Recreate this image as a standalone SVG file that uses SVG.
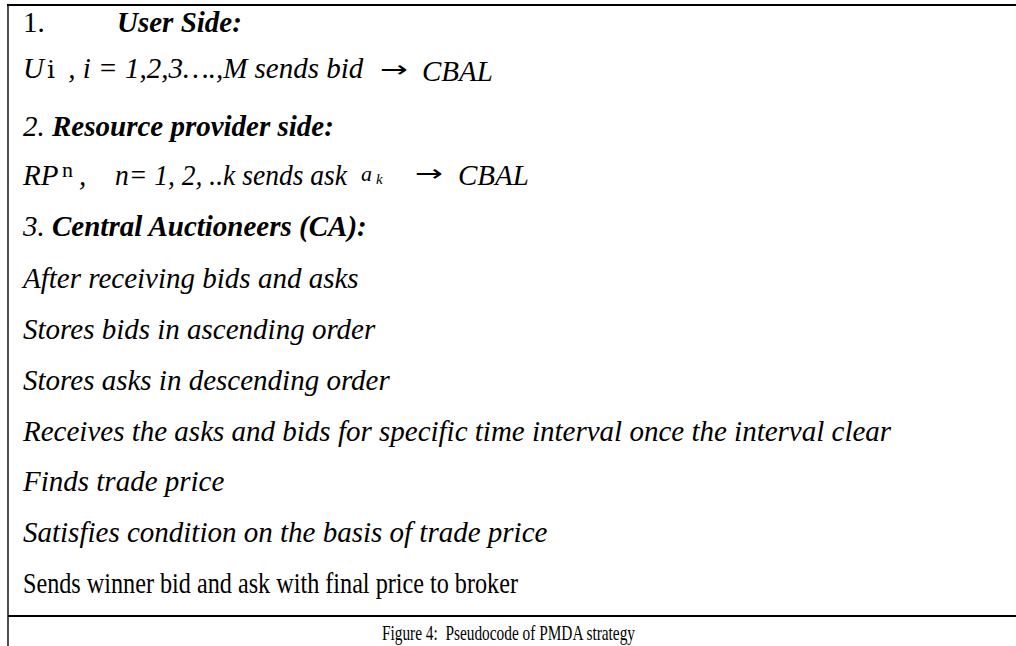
<svg xmlns="http://www.w3.org/2000/svg" width="1016" height="646" viewBox="0 0 1016 646">
<style>
.t{font-family:"Liberation Serif","Times New Roman",serif;font-size:29px;fill:#000;font-style:italic}
.b{font-weight:bold}
.r{font-style:normal}
.ar{font-family:"DejaVu Sans",sans-serif;font-style:normal;font-size:23px}
.cap{font-family:"Liberation Serif","Times New Roman",serif;font-size:22px;fill:#000}
.ln{stroke:#000;fill:none}
</style>
<rect width="1016" height="646" fill="#fff"/>
<g id="frame">
<line class="ln" x1="7" y1="5" x2="1016" y2="5" stroke-width="2.2"/>
<line class="ln" x1="8" y1="4" x2="8" y2="646" stroke-width="1.4"/>
<line class="ln" x1="8" y1="616" x2="1016" y2="616" stroke-width="2.2"/>
</g>
<g id="user-side">
<text class="t r" x="23" y="32">1.</text>
<text class="t b" x="117" y="32">User Side:</text>
<text class="t" x="23" y="78">U<tspan class="r" x="47" font-family="DejaVu Serif" font-size="25">i</tspan><tspan x="61"> , i = 1,2,3….,M sends bid</tspan></text>
<text class="ar" x="380" y="77" textLength="28" lengthAdjust="spacingAndGlyphs">→</text>
<text class="t" x="422" y="81">CBAL</text>
</g>
<g id="provider-side">
<text class="t" x="23" y="136">2. <tspan class="b">Resource provider side:</tspan></text>
<text class="t" x="23" y="185">RP<tspan class="r" x="62" y="177" font-size="22">n</tspan><tspan x="79" y="185">,</tspan><tspan x="115" textLength="232" lengthAdjust="spacingAndGlyphs">n= 1, 2, ..k sends ask</tspan><tspan x="361" y="181" font-size="22">a</tspan><tspan x="376" y="184" font-size="15">k</tspan></text>
<text class="ar" x="415" y="181" textLength="28" lengthAdjust="spacingAndGlyphs">→</text>
<text class="t" x="458" y="185">CBAL</text>
</g>
<g id="central-auctioneers">
<text class="t" x="23" y="236">3. <tspan class="b">Central Auctioneers (CA):</tspan></text>
<text class="t" x="23" y="288">After receiving bids and asks</text>
<text class="t" x="23" y="339">Stores bids in ascending order</text>
<text class="t" x="23" y="390">Stores asks in descending order</text>
<text class="t" x="23" y="441">Receives the asks and bids for specific time interval once the interval clear</text>
<text class="t" x="23" y="491">Finds trade price</text>
<text class="t" x="23" y="542">Satisfies condition on the basis of trade price</text>
<text class="t r" x="23" y="593" font-size="28" textLength="495" lengthAdjust="spacingAndGlyphs">Sends winner bid and ask with final price to broker</text>
</g>
<g id="caption">
<text class="cap" x="382" y="640" textLength="253" lengthAdjust="spacingAndGlyphs" xml:space="preserve">Figure 4:  Pseudocode of PMDA strategy</text>
</g>
</svg>
